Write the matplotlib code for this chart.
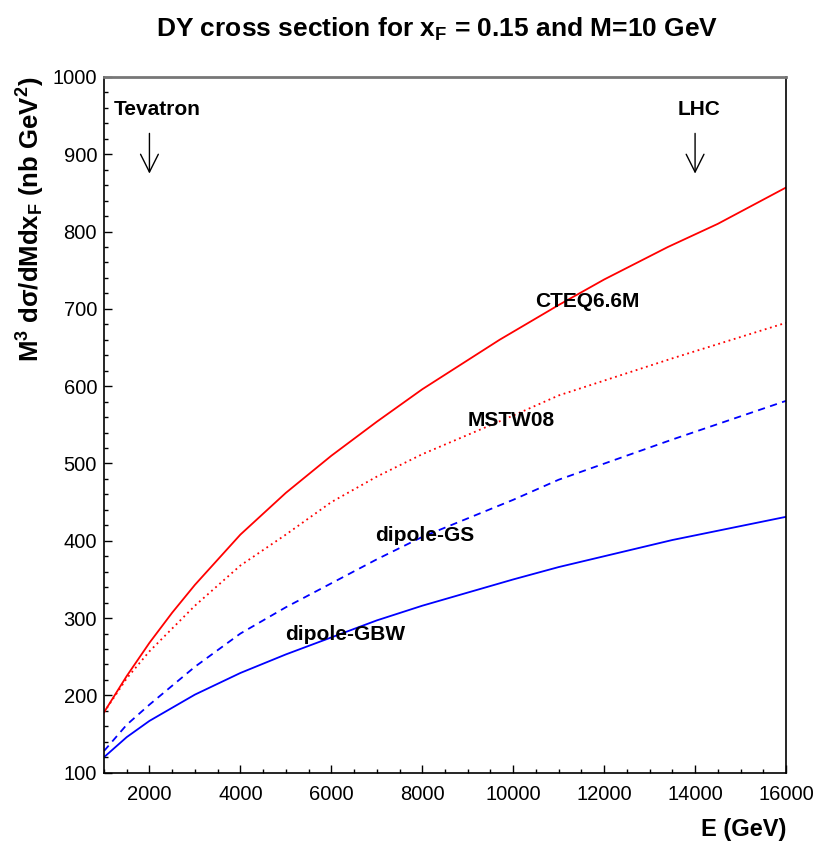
import matplotlib
matplotlib.use("Agg")
import matplotlib.pyplot as plt
from matplotlib.ticker import MultipleLocator

plt.rcParams['font.family'] = ['Liberation Sans', 'DejaVu Sans']
plt.rcParams['mathtext.fontset'] = 'custom'
plt.rcParams['mathtext.rm'] = 'Liberation Sans'
plt.rcParams['mathtext.bf'] = 'Liberation Sans:bold'
plt.rcParams['mathtext.it'] = 'Liberation Sans:italic'

# ---- data ----
energy_cteq = [1000, 1500, 2000, 2500, 3000, 4000, 5000, 6000, 7000, 8000, 9700, 11000, 12000, 13400, 14500, 16000]
cteq = [178, 225, 268, 307, 343, 408, 462, 510, 554, 596, 660, 705, 738, 780, 810, 857]

energy = [1000, 1500, 2000, 3000, 4000, 5000, 6000, 7000, 8000, 10000, 11000, 13500, 16000]
mstw = [178, 222, 257, 316, 368, 408, 450, 483, 512, 562, 588, 636, 682]
dipole_gs = [128, 162, 188, 237, 280, 314, 345, 376, 405, 453, 479, 531, 581]
dipole_gbw = [120, 146, 167, 201, 229, 253, 275, 297, 316, 350, 366, 401, 431]

curve_labels = ["CTEQ6.6M", "MSTW08", "dipole-GS", "dipole-GBW"]
label_pos_x = [11620, 9950, 8060, 6300]
label_pos_y = [709, 556, 407, 279]

machines = ["Tevatron", "LHC"]
machine_energy = [2000, 14000]
machine_label_x = [2170, 14090]

fig = plt.figure(figsize=(8.18, 8.43), dpi=100)
ax = fig.add_axes([0.1271, 0.0834, 0.8338, 0.8253])

ax.plot(energy_cteq, cteq, color='#ff0000', lw=1.3, ls='-')
ax.plot(energy, mstw, color='#ff0000', lw=1.3, ls=(0, (1, 2)))
ax.plot(energy, dipole_gs, color='#0000ff', lw=1.3, ls=(0, (4, 3)))
ax.plot(energy, dipole_gbw, color='#0000ff', lw=1.3, ls='-')

ax.set_xlim(1000, 16000)
ax.set_ylim(100, 1000)

ax.xaxis.set_major_locator(MultipleLocator(2000))
ax.xaxis.set_minor_locator(MultipleLocator(500))
ax.yaxis.set_major_locator(MultipleLocator(100))
ax.yaxis.set_minor_locator(MultipleLocator(20))
ax.tick_params(which='both', direction='in', top=False, right=False, labelsize=14.5, width=1)
ax.tick_params(which='major', length=6)
ax.tick_params(which='minor', length=3)
ax.tick_params(axis='x', pad=9)
ax.tick_params(axis='y', pad=5)

for s in ['left', 'bottom', 'right']:
    ax.spines[s].set_linewidth(1.2)
    ax.spines[s].set_color('black')
ax.spines['top'].set_linewidth(2.0)
ax.spines['top'].set_color('#777777')

for lab, lx, ly in zip(curve_labels, label_pos_x, label_pos_y):
    ax.text(lx, ly, lab, fontsize=15, fontweight='bold', ha='center', va='center')

for name, ex, lx in zip(machines, machine_energy, machine_label_x):
    ax.text(lx, 958, name, fontsize=15, fontweight='bold', ha='center', va='center')
    ax.annotate('', xy=(ex, 875), xytext=(ex, 927),
                arrowprops=dict(arrowstyle='->', lw=1.0, color='black',
                                mutation_scale=32, shrinkA=0, shrinkB=0))

fig.text(0.534, 0.965, r'DY cross section for x$_{\mathbf{F}}$ = 0.15 and M=10 GeV',
         fontsize=19, fontweight='bold', ha='center', va='center')

ax.set_xlabel('E (GeV)', fontsize=17, fontweight='bold', loc='right', labelpad=10)
ax.set_ylabel(r'M$^{\mathbf{3}}$ d$\mathbf{\sigma}$/dMdx$_{\mathbf{F}}$ (nb GeV$^{\mathbf{2}}$)',
              fontsize=18.5, fontweight='bold', loc='top', labelpad=4)

fig.savefig('out.png', dpi=100)
